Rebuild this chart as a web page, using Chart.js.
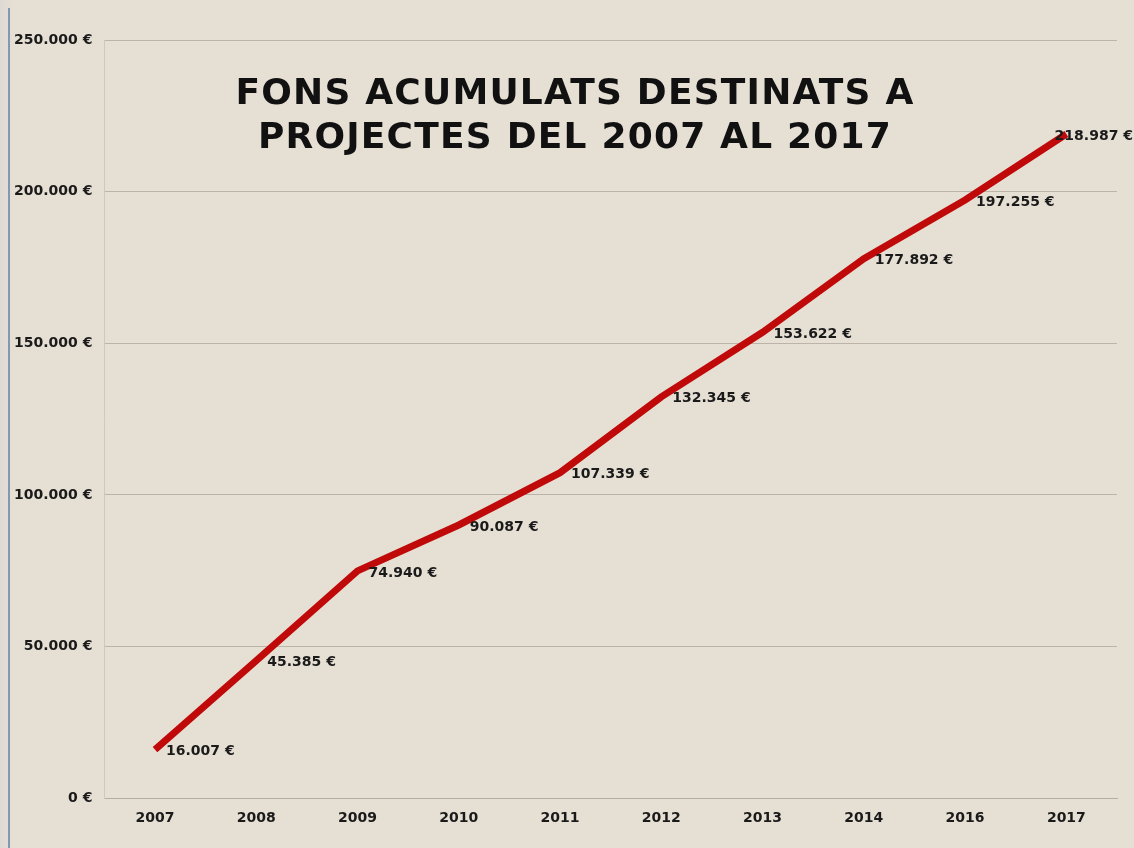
<!DOCTYPE html>
<html lang="ca">
<head>
<meta charset="UTF-8">
<title>Fons acumulats</title>
<script src="https://cdn.jsdelivr.net/npm/chart.js@4.4.1/dist/chart.umd.min.js"></script>
<style>
  html, body { margin: 0; padding: 0; }
  body { background: #e4ddd2; width: 1134px; height: 848px; overflow: hidden; }
  #wrap { position: relative; width: 1134px; height: 848px;
          background: linear-gradient(90deg, #ddd9d4 0px, #e6dfd4 14px, #e6dfd4 100%); }
  #wrap::before { content: ""; position: absolute; left: 8px; top: 8px; bottom: 0; width: 2px; background: #7f99b3; }
  #title { position: absolute; left: 125px; width: 900px; top: 70px; text-align: center;
           font: bold 36px "DejaVu Sans", sans-serif; letter-spacing: 1.2px; line-height: 44px; color: #111; }
</style>
</head>
<body>
<div id="wrap">
  <canvas id="c" width="1134" height="848"></canvas>
  <div id="title">FONS ACUMULATS DESTINATS A<br>PROJECTES DEL 2007 AL 2017</div>
</div>
<script>
const years = ['2007', '2008', '2009', '2010', '2011', '2012', '2013', '2014', '2016', '2017'];
const fons = [16007, 45385, 74940, 90087, 107339, 132345, 153622, 177892, 197255, 218987];

function euro(v) {
  return String(Math.round(v)).replace(/\B(?=(\d{3})+(?!\d))/g, '.') + ' €';
}

const labelsPlugin = {
  id: 'pointLabels',
  afterDatasetsDraw(chart) {
    const ctx = chart.ctx;
    const meta = chart.getDatasetMeta(0);
    ctx.save();
    ctx.font = 'bold 14px "DejaVu Sans", sans-serif';
    ctx.fillStyle = '#1a1a1a';
    ctx.textBaseline = 'middle';
    meta.data.forEach((pt, i) => {
      const txt = euro(fons[i]);
      const w = ctx.measureText(txt).width;
      let x = pt.x + 11;
      if (x + w > chart.width - 1) x = chart.width - 1 - w;
      ctx.fillText(txt, x, pt.y + 2);
    });
    ctx.restore();
  }
};

new Chart(document.getElementById('c'), {
  type: 'line',
  data: {
    labels: years,
    datasets: [{
      data: fons,
      borderColor: '#c00a0a',
      borderWidth: 7,
      pointRadius: 0,
      tension: 0,
      fill: false
    }]
  },
  options: {
    responsive: false,
    animation: false,
    layout: { padding: { top: 40, right: 17, left: 2, bottom: 17 } },
    plugins: { legend: { display: false }, tooltip: { enabled: false } },
    scales: {
      x: {
        offset: true,
        grid: { display: false },
        border: { display: true, color: '#b5ada1' },
        ticks: { color: '#1a1a1a', font: { family: 'DejaVu Sans', weight: 'bold', size: 14 }, padding: 4 }
      },
      y: {
        min: 0,
        max: 250000,
        ticks: {
          stepSize: 50000,
          color: '#1a1a1a',
          padding: 12,
          font: { family: 'DejaVu Sans', weight: 'bold', size: 14 },
          callback: v => euro(v)
        },
        grid: { color: '#bcb4a8', lineWidth: 1, drawTicks: false },
        border: { display: true, color: '#cfc8bd' }
      }
    }
  },
  plugins: [labelsPlugin]
});
</script>
</body>
</html>
